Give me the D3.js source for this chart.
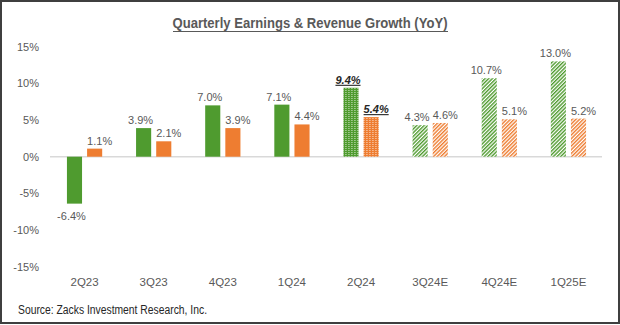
<!DOCTYPE html>
<html lang="en">
<head>
<meta charset="UTF-8">
<title>Quarterly Earnings & Revenue Growth</title>
<script src="https://cdn.jsdelivr.net/npm/d3@7"></script>
<style>
  body { margin: 0; background: #fff; }
  svg text { font-family: "Liberation Sans", Arial, sans-serif; }
</style>
</head>
<body>
<div id="chart"></div>
<script>
// data
var categories = ["2Q23", "3Q23", "4Q23", "1Q24", "2Q24", "3Q24E", "4Q24E", "1Q25E"];
var earnings   = [-6.4, 3.9, 7.0, 7.1, 9.4, 4.3, 10.7, 13.0];
var revenue    = [1.1, 2.1, 3.9, 4.4, 5.4, 4.6, 5.1, 5.2];
// "actual" solid, "current" dotted, "estimate" hatched
var periodType = ["actual", "actual", "actual", "actual", "current", "estimate", "estimate", "estimate"];
var yTicks     = [-15, -10, -5, 0, 5, 10, 15];

var W = 620, H = 325;
var green = "#4f9b2f", orange = "#ee7d31";

var svg = d3.select("#chart").append("svg")
    .attr("width", W).attr("height", H);

// patterns
var defs = svg.append("defs");
function dotted(id, col) {
    var p = defs.append("pattern").attr("id", id)
        .attr("patternUnits", "userSpaceOnUse").attr("width", 3).attr("height", 2);
    p.append("rect").attr("width", 3).attr("height", 2).attr("fill", col);
    p.append("rect").attr("x", 2).attr("y", 0).attr("width", 1).attr("height", 1).attr("fill", "#fff").attr("opacity", 0.8);
}
function hatch(id, col) {
    var p = defs.append("pattern").attr("id", id)
        .attr("patternUnits", "userSpaceOnUse").attr("width", 2.6).attr("height", 2.6)
        .attr("patternTransform", "rotate(45)");
    p.append("rect").attr("width", 2.6).attr("height", 2.6).attr("fill", "#fff");
    p.append("rect").attr("width", 1.4).attr("height", 2.6).attr("fill", col);
}
dotted("dotG", green); dotted("dotO", orange);
hatch("hatG", green); hatch("hatO", orange);

function fillFor(type, series) {
    var c = series === "e" ? green : orange;
    if (type === "current") return series === "e" ? "url(#dotG)" : "url(#dotO)";
    if (type === "estimate") return series === "e" ? "url(#hatG)" : "url(#hatO)";
    return c;
}

// frame
svg.append("rect").attr("x", 1).attr("y", 1).attr("width", W - 2).attr("height", H - 3)
    .attr("fill", "none").attr("stroke", "#3f3f3f").attr("stroke-width", 2);

// title
svg.append("text")
    .attr("x", 310).attr("y", 28)
    .attr("text-anchor", "middle")
    .style("font-family", "'Liberation Sans Narrow', 'Liberation Sans', Arial, sans-serif")
    .style("font-weight", "bold").style("font-size", "14.5px")
    .attr("fill", "#595959")
    .attr("textLength", 275).attr("lengthAdjust", "spacingAndGlyphs")
    .text("Quarterly Earnings & Revenue Growth (YoY)");
svg.append("line").attr("x1", 173).attr("x2", 448).attr("y1", 31.5).attr("y2", 31.5)
    .attr("stroke", "#595959").attr("stroke-width", 1);

// scales
var x = d3.scaleBand().domain(categories).range([50, 603]).paddingInner(0.49).paddingOuter(0.245);
var inner = d3.scaleBand().domain(["e", "r"]).range([0, x.bandwidth()]).paddingInner(0.25);
var y = d3.scaleLinear().domain([-15, 15]).range([266.7, 46.7]);

// y axis labels
svg.append("g").selectAll("text").data(yTicks).enter().append("text")
    .attr("x", 39).attr("y", function(d) { return y(d) + 4; })
    .attr("text-anchor", "end")
    .attr("fill", "#595959").style("font-size", "11px")
    .text(function(d) { return d + "%"; });

// zero line
svg.append("line").attr("x1", 50).attr("x2", 602)
    .attr("y1", y(0)).attr("y2", y(0))
    .attr("stroke", "#d9d9d9").attr("stroke-width", 1.5);

// rows
var rows = categories.map(function(c, i) {
    return { cat: c, type: periodType[i], vals: [{ s: "e", v: earnings[i] }, { s: "r", v: revenue[i] }] };
});

var groups = svg.append("g").selectAll("g").data(rows).enter().append("g")
    .attr("transform", function(d) { return "translate(" + x(d.cat) + ",0)"; });

groups.selectAll("rect").data(function(d) {
    return d.vals.map(function(v) { return { s: v.s, v: v.v, type: d.type }; });
}).enter().append("rect")
    .attr("x", function(d) { return inner(d.s); })
    .attr("width", inner.bandwidth())
    .attr("y", function(d) { return y(Math.max(0, d.v)); })
    .attr("height", function(d) { return Math.abs(y(d.v) - y(0)); })
    .attr("fill", function(d) { return fillFor(d.type, d.s); });

// value labels
groups.selectAll("text.val").data(function(d) {
    return d.vals.map(function(v) { return { s: v.s, v: v.v, type: d.type }; });
}).enter().append("text")
    .attr("class", "val")
    .attr("x", function(d) { return inner(d.s) + inner.bandwidth() / 2 + (d.s === "e" ? -3 : 5); })
    .attr("y", function(d) { return d.v < 0 ? y(d.v) + 16 : y(d.v) - 4; })
    .attr("text-anchor", "middle")
    .style("font-size", "11px")
    .style("font-weight", function(d) { return d.type === "current" ? "bold" : "normal"; })
    .style("font-style", function(d) { return d.type === "current" ? "italic" : "normal"; })
    .style("text-decoration", function(d) { return d.type === "current" ? "underline" : "none"; })
    .attr("fill", function(d) { return d.type === "current" ? "#262626" : "#595959"; })
    .text(function(d) { return d.v.toFixed(1) + "%"; });

// category labels
svg.append("g").selectAll("text").data(categories).enter().append("text")
    .attr("x", function(d) { return x(d) + x.bandwidth() / 2; })
    .attr("y", 286)
    .attr("text-anchor", "middle")
    .attr("fill", "#595959").style("font-size", "11.5px")
    .text(function(d) { return d; });

// source
svg.append("text").attr("x", 18).attr("y", 314)
    .style("font-family", "'Liberation Sans Narrow', 'Liberation Sans', Arial, sans-serif")
    .style("font-size", "12px").attr("fill", "#262626")
    .attr("textLength", 189).attr("lengthAdjust", "spacingAndGlyphs")
    .text("Source: Zacks Investment Research, Inc.");
</script>
</body>
</html>
